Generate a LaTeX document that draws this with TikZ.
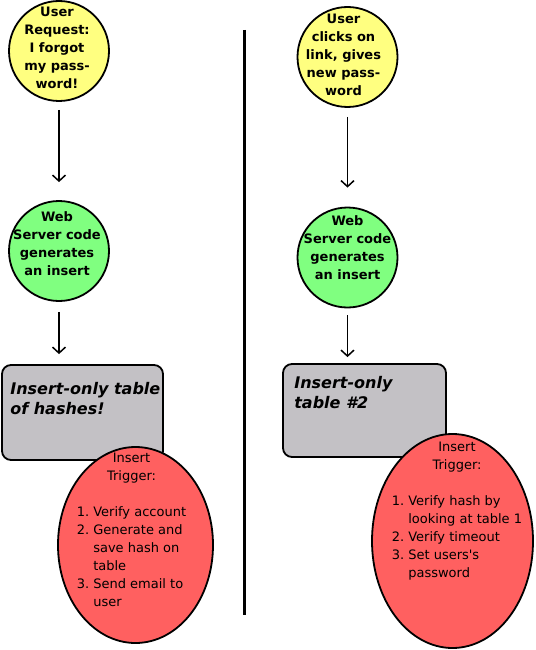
\documentclass[tikz,border=0pt]{standalone}
\usepackage{fontspec}
\setmainfont{DejaVu Sans}[Ligatures=TeXOff]
\usetikzlibrary{shapes.geometric,arrows.meta}
\definecolor{askyellow}{RGB}{255,255,128}
\definecolor{codegreen}{RGB}{128,255,128}
\definecolor{tablegray}{RGB}{195,193,197}
\definecolor{trigred}{RGB}{255,96,96}
\newcommand\bubblefont{\fontsize{13}{18}\selectfont\bfseries}
\newcommand\tablefont{\fontsize{16}{20}\selectfont\bfseries\itshape}
\newcommand\triggerfont{\fontsize{13}{18}\selectfont}
\begin{document}
\begin{tikzpicture}[x=1pt,y=-1pt,
  bubble/.style={circle,draw,line width=1.8pt,minimum size=100pt,inner sep=0pt},
  bubbletext/.style={align=center,inner sep=0pt,font=\bubblefont},
  tablebox/.style={draw,line width=1.8pt,fill=tablegray,rounded corners=9pt,inner sep=0pt},
  tabletext/.style={anchor=north west,align=left,inner sep=0pt,font=\tablefont},
  trigger/.style={ellipse,draw,line width=1.8pt,fill=trigred,inner sep=0pt},
  triggertext/.style={anchor=north,align=center,inner sep=0pt,font=\triggerfont},
  flow/.style={-{Straight Barb[length=6pt,width=13pt]},line width=1.5pt}]
\useasboundingbox (0,0) rectangle (535,650);
\node[bubble,fill=askyellow,label={[bubbletext,xshift=-2pt,yshift=3.5pt]center:User\\Request:\\I forgot\\my pass-\\word!}] (req) at (59,51) {};
\node[bubble,fill=codegreen,label={[bubbletext,xshift=-2pt,yshift=7pt]center:Web\\Server code\\generates\\an insert}] (web) at (59,251) {};
\node[tablebox,minimum width=161pt,minimum height=95pt,label={[tabletext,xshift=9pt,yshift=-18pt]north west:Insert-only table\\of hashes!}] (tab) at (82.5,412.5) {};
\node[trigger,minimum width=155pt,minimum height=196pt,label={[triggertext,xshift=-4pt,yshift=-7pt]north:Insert\\Trigger:\\[18pt]\begin{tabular}[t]{@{}r@{\hspace{4pt}}l@{}}1. & Verify account\\2. & Generate and\\ & save hash on\\ & table\\3. & Send email to\\ & user\end{tabular}}] (trg) at (135.5,545) {};
\node[bubble,fill=askyellow,label={[bubbletext,xshift=-4pt,yshift=2pt]center:User\\clicks on\\link, gives\\new pass-\\word}] (clk) at (347.5,57) {};
\node[bubble,fill=codegreen,label={[bubbletext,yshift=10pt]center:Web\\Server code\\generates\\an insert}] (web2) at (347.5,257.5) {};
\node[tablebox,minimum width=163pt,minimum height=93pt,label={[tabletext,xshift=12pt,yshift=-13pt]north west:Insert-only\\table \#2}] (tab2) at (364.5,410.5) {};
\node[trigger,minimum width=161pt,minimum height=214pt,label={[triggertext,xshift=4.5pt,yshift=-9pt]north:Insert\\Trigger:\\[18pt]\begin{tabular}[t]{@{}r@{\hspace{4pt}}l@{}}1. & Verify hash by\\ & looking at table 1\\2. & Verify timeout\\3. & Set users's\\ & password\end{tabular}}] (trg2) at (452.5,541) {};
\coordinate (divtop) at (244,30);
\coordinate (divbot) at (244,615);
\draw[line width=3pt] (divtop) -- (divbot);
\draw[flow,shorten <=8pt,shorten >=18pt] (req) -- (web);
\draw[flow,shorten <=10pt,shorten >=10pt] (web) -- (web |- tab.north);
\draw[flow,shorten <=9pt,shorten >=19pt] (clk) -- (web2);
\draw[flow,shorten <=7pt,shorten >=6pt] (web2) -- (web2 |- tab2.north);
\end{tikzpicture}
\end{document}
